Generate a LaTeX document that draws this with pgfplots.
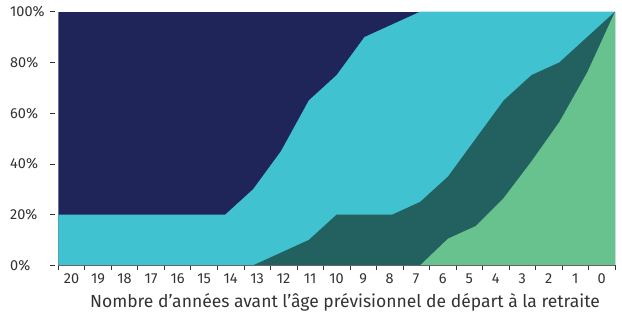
\documentclass[border=0pt]{standalone}
\usepackage{pgfplots}
\pgfplotsset{compat=1.18}
\usepackage{fontspec}
\setmainfont{Fira Sans}
\definecolor{cNavy}{HTML}{1F2559}
\definecolor{cCyan}{HTML}{41C2D0}
\definecolor{cTeal}{HTML}{236161}
\definecolor{cGreen}{HTML}{67C28E}
\definecolor{cAxis}{HTML}{666666}
\definecolor{cText}{HTML}{333333}
\begin{document}
\begin{tikzpicture}[x=1pt,y=1pt]
\begin{axis}[
  at={(0,0)}, anchor=south west,
  scale only axis, width=556.7pt, height=253.6pt,
  xmin=0, xmax=20, ymin=0, ymax=100,
  axis on top,
  axis x line*=bottom, axis y line*=left,
  x axis line style={draw=cAxis, line width=0.8pt},
  y axis line style={draw=none},
  tick align=outside,
  xtick={0.476190,1.428571,2.380952,3.333333,4.285714,5.238095,6.190476,7.142857,8.095238,9.047619,10,10.952381,11.904762,12.857143,13.809524,14.761905,15.714286,16.666667,17.619048,18.571429,19.523810},
  xticklabels={20,19,18,17,16,15,14,13,12,11,10,9,8,7,6,5,4,3,2,1,0},
  major x tick style={draw=none},
  minor xtick={0,0.952381,1.904762,2.857143,3.809524,4.761905,5.714286,6.666667,7.619048,8.571429,9.523810,10.476190,11.428571,12.380952,13.333333,14.285714,15.238095,16.190476,17.142857,18.095238,19.047619,20},
  minor tick length=5pt,
  minor x tick style={draw=cText, line width=0.7pt},
  ytick={0,20,40,60,80,100},
  yticklabels={0\%,20\%,40\%,60\%,80\%,100\%},
  major tick length=5pt,
  y tick style={draw=cText, line width=0.7pt, xshift=-3pt},
  xticklabel style={anchor=base, yshift=-13.5pt, inner sep=0pt, font=\fontsize{14.5}{16}\selectfont, text=cText},
  yticklabel style={anchor=west, xshift=-43.3pt, inner sep=0pt, font=\fontsize{14.5}{16}\selectfont, text=cText},
  xlabel={Nombre d’années avant l’âge prévisionnel de départ à la retraite},
  xlabel style={at={(axis description cs:0.515,0)}, anchor=base, yshift=-42.7pt, inner sep=0pt, font=\fontsize{17.5}{20}\selectfont, text=cText},
]
\addplot[draw=none, fill=cNavy] coordinates {(0,100) (20,100)} \closedcycle;
\addplot[draw=none, fill=cCyan] coordinates {
(0,20) (1,20) (2,20) (3,20) (4,20) (5,20) (6,20) (7,30) (8,45) (9,65) (10,75)
(11,90) (12,95) (13,100) (14,100) (15,100) (16,100) (17,100) (18,100) (19,100) (20,100)} \closedcycle;
\addplot[draw=none, fill=cTeal] coordinates {
(0,0) (1,0) (2,0) (3,0) (4,0) (5,0) (6,0) (7,0) (8,5) (9,10) (10,20)
(11,20) (12,20) (13,25) (14,35) (15,50) (16,65) (17,75) (18,80) (19,90) (20,100)} \closedcycle;
\addplot[draw=none, fill=cGreen] coordinates {
(0,0) (1,0) (2,0) (3,0) (4,0) (5,0) (6,0) (7,0) (8,0) (9,0) (10,0)
(11,0) (12,0) (13,0) (14,10.5) (15,15.5) (16,26.5) (17,41) (18,56.5) (19,76) (20,100)} \closedcycle;
\end{axis}
\pgfresetboundingbox
\path[use as bounding box] (-58.3,-47.7) rectangle (563.7,265.3);
\end{tikzpicture}
\end{document}
